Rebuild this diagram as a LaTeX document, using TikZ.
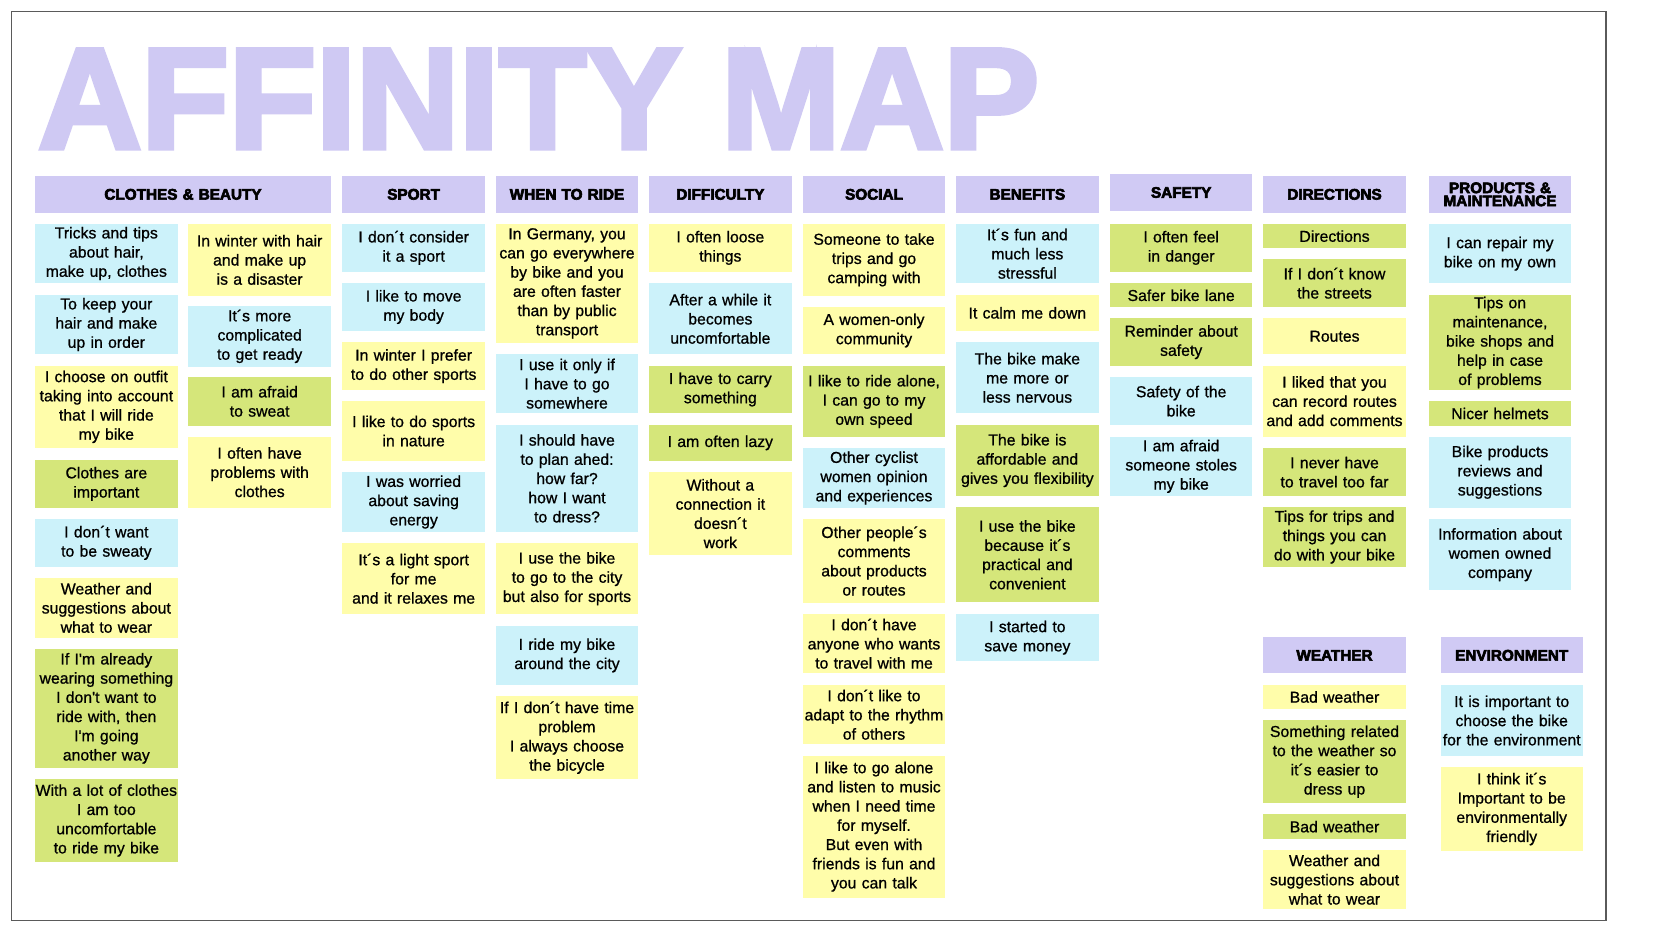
\documentclass[tikz,border=0pt]{standalone}
\usepackage{fontspec}
\newfontfamily\notefont{Liberation Sans}[FakeBold=0.8]
\newfontfamily\headfont{Liberation Sans Bold}[FakeBold=4]
\newfontfamily\titlefont{Liberation Sans Bold}[FakeBold=3.5]
\definecolor{hdc}{RGB}{208,202,244}
\definecolor{ttl}{RGB}{207,201,243}
\definecolor{cy}{RGB}{204,242,250}
\definecolor{ye}{RGB}{255,253,170}
\definecolor{gr}{RGB}{213,230,122}
\definecolor{frm}{RGB}{90,90,90}
\tikzset{
  note/.style={inner sep=0pt, outer sep=0pt, align=center, font=\notefont\fontsize{15.8}{19.2}\selectfont, text=black},
  head/.style={inner sep=0pt, outer sep=0pt, align=center, fill=hdc, font=\headfont\fontsize{15.3}{13}\selectfont, text=black}
}
\newcommand\nt[7]{%
  \pgfmathsetmacro\ntw{#5-#3}\pgfmathsetmacro\nth{#6-#4}%
  \pgfmathsetmacro\ntcx{(#3+#5)/2}\pgfmathsetmacro\ntcy{(#4+#6)/2}%
  \node[note,fill=#2,minimum width=\ntw pt,minimum height=\nth pt,text width=\ntw pt] (#1) at (\ntcx,\ntcy) {#7};}
\newcommand\hd[6]{%
  \pgfmathsetmacro\ntw{#4-#2}\pgfmathsetmacro\nth{#5-#3}%
  \pgfmathsetmacro\ntcx{(#2+#4)/2}\pgfmathsetmacro\ntcy{(#3+#5)/2}%
  \node[head,minimum width=\ntw pt,minimum height=\nth pt,text width=\ntw pt] (#1) at (\ntcx,\ntcy) {#6};}
\begin{document}
\begin{tikzpicture}[x=1pt,y=-1pt]
\useasboundingbox[fill=white] (0,0) rectangle (1653,930);
\draw[frm, line width=1.5pt] (11.5,11.7) rectangle (1606,920.7);
\node[anchor=base west, inner sep=0pt, text=ttl, font=\titlefont\fontsize{143}{143}\selectfont] (title) at (38,148) {AFFINITY MAP};
% headers
\hd{h1}{35}{176}{331}{212.7}{CLOTHES \& BEAUTY}
\hd{h2}{342.3}{176}{485}{212.7}{SPORT}
\hd{h3}{495.7}{176}{638.3}{212.7}{WHEN TO RIDE}
\hd{h4}{649}{176}{791.7}{212.7}{DIFFICULTY}
\hd{h5}{802.7}{176}{945.3}{212.7}{SOCIAL}
\hd{h6}{956}{176}{1098.7}{212.7}{BENEFITS}
\hd{h7}{1110}{174.3}{1252.3}{210.7}{SAFETY}
\hd{h8}{1263.3}{176}{1405.7}{212.7}{DIRECTIONS}
\hd{h9}{1429}{176}{1571}{212.7}{PRODUCTS \&\\MAINTENANCE}
\hd{h10}{1263.3}{637.3}{1405.7}{673.3}{WEATHER}
\hd{h11}{1440.7}{637.3}{1582.7}{673.3}{ENVIRONMENT}
% clothes A
\nt{a1}{cy}{35}{224}{177.7}{283}{Tricks and tips\\about hair,\\make up, clothes}
\nt{a2}{cy}{35}{295}{177.7}{354}{To keep your\\hair and make\\up in order}
\nt{a3}{ye}{35}{365.7}{177.7}{448}{I choose on outfit\\taking into account\\that I will ride\\my bike}
\nt{a4}{gr}{35}{460}{177.7}{507.7}{Clothes are\\important}
\nt{a5}{cy}{35}{519}{177.7}{566.7}{I don´t want\\to be sweaty}
\nt{a6}{ye}{35}{578}{177.7}{637.7}{Weather and\\suggestions about\\what to wear}
\nt{a7}{gr}{35}{649}{177.7}{767.7}{If I'm already\\wearing something\\I don't want to\\ride with, then\\I'm going\\another way}
\nt{a8}{gr}{35}{779}{177.7}{862}{With a lot of clothes\\I am too\\uncomfortable\\to ride my bike}
% clothes B
\nt{b1}{ye}{188.3}{224}{331}{295.7}{In winter with hair\\and make up\\is a disaster}
\nt{b2}{cy}{188.3}{306}{331}{366.7}{It´s more\\complicated\\to get ready}
\nt{b3}{gr}{188.3}{377}{331}{425.7}{I am afraid\\to sweat}
\nt{b4}{ye}{188.3}{436.7}{331}{507.7}{I often have\\problems with\\clothes}
% sport
\nt{s1}{cy}{342.3}{224}{485}{271.7}{I don´t consider\\it a sport}
\nt{s2}{cy}{342.3}{283.3}{485}{330.7}{I like to move\\my body}
\nt{s3}{ye}{342.3}{342.3}{485}{390}{In winter I prefer\\to do other sports}
\nt{s4}{ye}{342.3}{401.3}{485}{460.7}{I like to do sports\\in nature}
\nt{s5}{cy}{342.3}{472.3}{485}{531.7}{I was worried\\about saving\\energy}
\nt{s6}{ye}{342.3}{543.3}{485}{614}{It´s a light sport\\for me\\and it relaxes me}
% when to ride
\nt{w1}{ye}{495.7}{224}{638.3}{342.7}{In Germany, you\\can go everywhere\\by bike and you\\are often faster\\than by public\\transport}
\nt{w2}{cy}{495.7}{354}{638.3}{413.3}{I use it only if\\I have to go\\somewhere}
\nt{w3}{cy}{495.7}{425}{638.3}{531.7}{I should have\\to plan ahed:\\how far?\\how I want\\to dress?}
\nt{w4}{ye}{495.7}{543.3}{638.3}{614}{I use the bike\\to go to the city\\but also for sports}
\nt{w5}{cy}{495.7}{625.7}{638.3}{685}{I ride my bike\\around the city}
\nt{w6}{ye}{495.7}{696}{638.3}{779.3}{If I don´t have time\\problem\\I always choose\\the bicycle}
% difficulty
\nt{d1}{ye}{649}{224}{791.7}{271.7}{I often loose\\things}
\nt{d2}{cy}{649}{283.3}{791.7}{354.3}{After a while it\\becomes\\uncomfortable}
\nt{d3}{gr}{649}{365.7}{791.7}{413.3}{I have to carry\\something}
\nt{d4}{gr}{649}{425}{791.7}{460.7}{I am often lazy}
\nt{d5}{ye}{649}{472.3}{791.7}{555}{Without a\\connection it\\doesn´t\\work}
% social
\nt{c1}{ye}{802.7}{224}{945.3}{295.7}{Someone to take\\trips and go\\camping with}
\nt{c2}{ye}{802.7}{306.7}{945.3}{354.3}{A women-only\\community}
\nt{c3}{gr}{802.7}{365.7}{945.3}{437.3}{I like to ride alone,\\I can go to my\\own speed}
\nt{c4}{cy}{802.7}{448.3}{945.3}{507.7}{Other cyclist\\women opinion\\and experiences}
\nt{c5}{ye}{802.7}{519.3}{945.3}{602.7}{Other people´s\\comments\\about products\\or routes}
\nt{c6}{ye}{802.7}{614}{945.3}{673.3}{I don´t have\\anyone who wants\\to travel with me}
\nt{c7}{ye}{802.7}{685}{945.3}{744.3}{I don´t like to\\adapt to the rhythm\\of others}
\nt{c8}{ye}{802.7}{755.7}{945.3}{897.7}{I like to go alone\\and listen to music\\when I need time\\for myself.\\But even with\\friends is fun and\\you can talk}
% benefits
\nt{e1}{cy}{956}{224}{1098.7}{283.3}{It´s fun and\\much less\\stressful}
\nt{e2}{ye}{956}{295}{1098.7}{330.7}{It calm me down}
\nt{e3}{cy}{956}{342.3}{1098.7}{413.3}{The bike make\\me more or\\less nervous}
\nt{e4}{gr}{956}{425}{1098.7}{496}{The bike is\\affordable and\\gives you flexibility}
\nt{e5}{gr}{956}{507.3}{1098.7}{602.3}{I use the bike\\because it´s\\practical and\\convenient}
\nt{e6}{cy}{956}{614}{1098.7}{661.3}{I started to\\save money}
% safety
\nt{f1}{gr}{1110}{224}{1252.3}{271.7}{I often feel\\in danger}
\nt{f2}{gr}{1110}{283.3}{1252.3}{307.3}{Safer bike lane}
\nt{f3}{gr}{1110}{318.3}{1252.3}{366}{Reminder about\\safety}
\nt{f4}{cy}{1110}{377.3}{1252.3}{425}{Safety of the\\bike}
\nt{f5}{cy}{1110}{436.7}{1252.3}{496}{I am afraid\\someone stoles\\my bike}
% directions
\nt{r1}{gr}{1263.3}{224}{1405.7}{248.3}{Directions}
\nt{r2}{gr}{1263.3}{259.3}{1405.7}{307}{If I don´t know\\the streets}
\nt{r3}{ye}{1263.3}{318.3}{1405.7}{354.3}{Routes}
\nt{r4}{ye}{1263.3}{365.7}{1405.7}{436.7}{I liked that you\\can record routes\\and add comments}
\nt{r5}{gr}{1263.3}{448.3}{1405.7}{496}{I never have\\to travel too far}
\nt{r6}{gr}{1263.3}{507.3}{1405.7}{566.7}{Tips for trips and\\things you can\\do with your bike}
% products
\nt{p1}{cy}{1429}{224}{1571}{283.3}{I can repair my\\bike on my own}
\nt{p2}{gr}{1429}{295}{1571}{390}{Tips on\\maintenance,\\bike shops and\\help in case\\of problems}
\nt{p3}{gr}{1429}{401.3}{1571}{425.7}{Nicer helmets}
\nt{p4}{cy}{1429}{436.7}{1571}{507.7}{Bike products\\reviews and\\suggestions}
\nt{p5}{cy}{1429}{519.3}{1571}{590}{Information about\\women owned\\company}
% weather
\nt{t1}{ye}{1263.3}{685}{1405.7}{709}{Bad weather}
\nt{t2}{gr}{1263.3}{720}{1405.7}{803.3}{Something related\\to the weather so\\it´s easier to\\dress up}
\nt{t3}{gr}{1263.3}{814.3}{1405.7}{839}{Bad weather}
\nt{t4}{ye}{1263.3}{850}{1405.7}{909.3}{Weather and\\suggestions about\\what to wear}
% environment
\nt{v1}{cy}{1440.7}{685}{1582.7}{756}{It is important to\\choose the bike\\for the environment}
\nt{v2}{ye}{1440.7}{767.3}{1582.7}{850.7}{I think it´s\\Important to be\\environmentally\\friendly}
\end{tikzpicture}
\end{document}
